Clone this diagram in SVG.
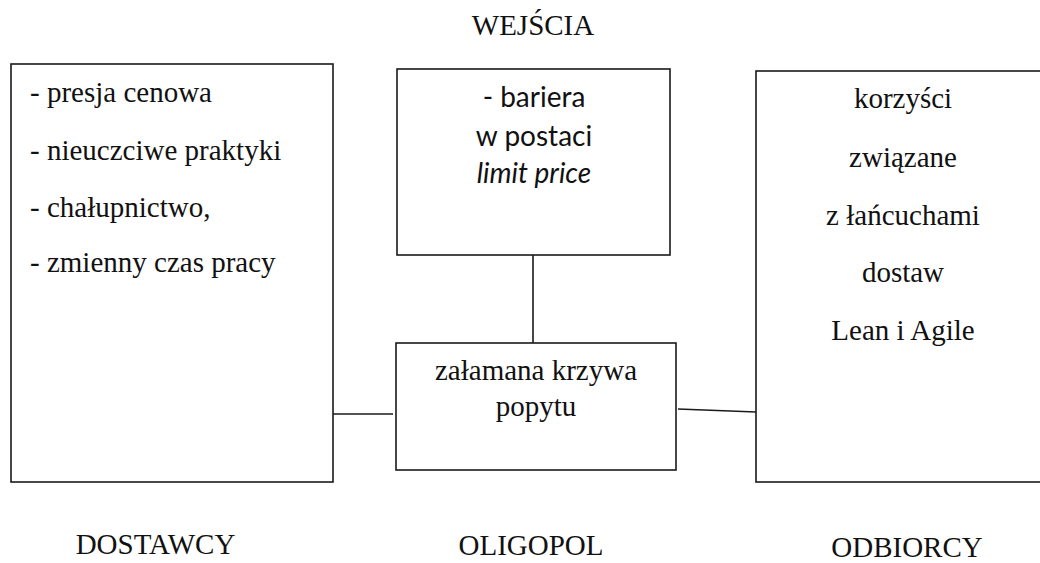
<svg xmlns="http://www.w3.org/2000/svg" width="1040" height="563" viewBox="0 0 1040 563">
<style>
.box{fill:#fff;stroke:#1a1a1a;stroke-width:1.6}
.conn{stroke:#1a1a1a;stroke-width:1.6;fill:none}
.t{font-family:"Liberation Serif","Times New Roman",serif;font-size:29px;fill:#111}
.c{text-anchor:middle}
.s{font-family:Lato,"Open Sans","Liberation Sans",sans-serif;font-size:28px;fill:#111;text-anchor:middle}
</style>
<rect width="1040" height="563" fill="#fff"/>
<g id="connectors">
<line class="conn" x1="533" y1="255" x2="533" y2="343"/>
<line class="conn" x1="333" y1="414" x2="393" y2="414"/>
<line class="conn" x1="678" y1="409" x2="756" y2="412"/>
</g>
<g id="dostawcy">
<rect class="box" x="11" y="64" width="322" height="418"/>
<text class="t" x="30" y="102">- presja cenowa</text>
<text class="t" x="30" y="160">- nieuczciwe praktyki</text>
<text class="t" x="30" y="217">- chałupnictwo,</text>
<text class="t" x="30" y="272">- zmienny czas pracy</text>
<text class="t c" x="155.5" y="554">DOSTAWCY</text>
</g>
<g id="wejscia">
<text class="t c" x="533" y="35">WEJŚCIA</text>
<rect class="box" x="397" y="69" width="273" height="186"/>
<text class="s" x="534" y="107">- bariera</text>
<text class="s" x="534" y="146">w postaci</text>
<text class="s" x="534" y="183" font-style="italic">limit price</text>
</g>
<g id="oligopol">
<rect class="box" x="396" y="343" width="280" height="127"/>
<text class="t c" x="536" y="380">załamana krzywa</text>
<text class="t c" x="536" y="416">popytu</text>
<text class="t c" x="531" y="555">OLIGOPOL</text>
</g>
<g id="odbiorcy">
<rect class="box" x="756" y="71" width="292" height="411"/>
<text class="t c" x="903" y="108">korzyści</text>
<text class="t c" x="903" y="167">związane</text>
<text class="t c" x="903" y="225">z łańcuchami</text>
<text class="t c" x="903" y="282">dostaw</text>
<text class="t c" x="903" y="340">Lean i Agile</text>
<text class="t c" x="907" y="557">ODBIORCY</text>
</g>
</svg>
